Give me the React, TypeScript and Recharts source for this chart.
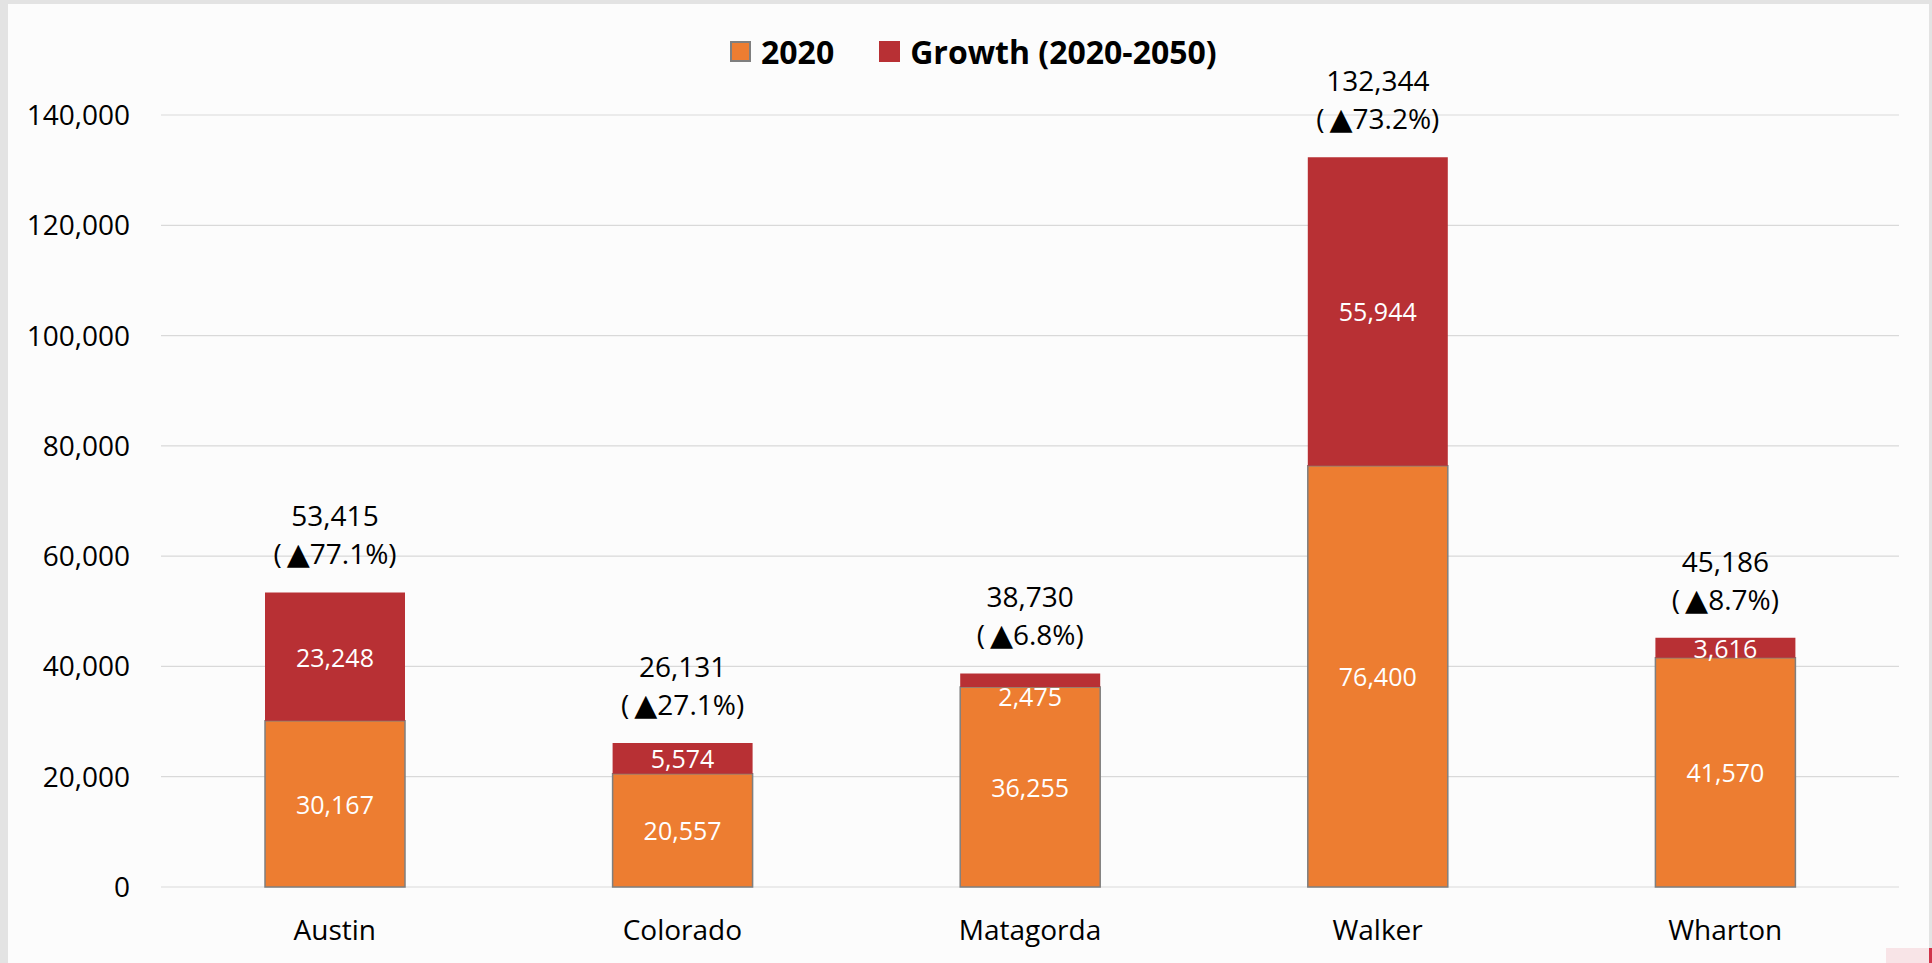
import React from 'react';
import { BarChart, Bar, XAxis, YAxis, CartesianGrid, Legend, LabelList } from 'recharts';

const counties = ['Austin', 'Colorado', 'Matagorda', 'Walker', 'Wharton'];
const pop2020 = [30167, 20557, 36255, 76400, 41570];
const growth = [23248, 5574, 2475, 55944, 3616];
const yTicks = [0, 20000, 40000, 60000, 80000, 100000, 120000, 140000];

const FONT = '"Open Sans", sans-serif';
const ORANGE = '#ed7d31';
const RED = '#b83034';

const data = counties.map((name, i) => ({
  name,
  base: pop2020[i],
  growth: growth[i],
}));

const fmt = (v: number) => v.toLocaleString('en-US');

// white value labels inside each segment
const InnerLabel = (props: any) => {
  const { x, y, width, height, value } = props;
  // very thin segments: Excel pushes the text just under the segment
  const cy = height < 16 ? y + height + 9 : y + height / 2;
  return (
    <text x={x + width / 2} y={cy} fill="#fff" fontSize={25} fontFamily={FONT}
      textAnchor="middle" dominantBaseline="central">
      {fmt(value)}
    </text>
  );
};

// total + growth % above the stacked bar
const TotalLabel = (props: any) => {
  const { x, y, width, index } = props;
  const total = pop2020[index] + growth[index];
  const pct = ((growth[index] / pop2020[index]) * 100).toFixed(1);
  const cx = x + width / 2;
  return (
    <g fontFamily={FONT} fontSize={28} fill="#000" textAnchor="middle">
      <text x={cx} y={y - 66}>{fmt(total)}</text>
      <text x={cx} y={y - 28}>
        (<tspan dx={5} fontFamily='"DejaVu Sans", sans-serif' fontSize={30}>▲</tspan>{`${pct}%)`}
      </text>
    </g>
  );
};

const LegendContent = () => (
  <div style={{ display: 'flex', alignItems: 'center', fontFamily: FONT, fontWeight: 700, fontSize: 32, lineHeight: '43px', color: '#000' }}>
    <span style={{ width: 21, height: 21, background: ORANGE, border: '2px solid #7f7f7f', boxSizing: 'border-box', marginRight: 10 }} />
    <span>2020</span>
    <span style={{ width: 21, height: 21, background: RED, marginLeft: 45, marginRight: 10 }} />
    <span>Growth (2020-2050)</span>
  </div>
);

export default function App() {
  return (
    <div style={{ position: 'relative', width: 1932, height: 963, background: '#e3e3e3', overflow: 'hidden' }}>
      <style>{'body{margin:0}'}</style>
      <div style={{ position: 'absolute', left: 8, top: 4, width: 1921, height: 959, background: '#fcfcfc' }} />
      <div style={{ position: 'absolute', left: 1886, top: 948, width: 43, height: 15, background: '#f8e4e7' }} />
      <div style={{ position: 'absolute', left: 1929, top: 948, width: 3, height: 15, background: '#d0344a' }} />
      <div style={{ position: 'absolute', left: 0, top: 0 }}>
        <BarChart
          width={1932}
          height={963}
          data={data}
          margin={{ top: 115, right: 33, left: 0, bottom: 16 }}
          barSize={140}
        >
          <CartesianGrid vertical={false} stroke="#d9d9d9" strokeWidth={1.2} />
          <XAxis
            dataKey="name"
            axisLine={false}
            tickLine={false}
            tickSize={0}
            tickMargin={33}
            height={60}
            tick={{ fill: '#000', fontSize: 28, fontFamily: FONT }}
          />
          <YAxis
            width={161}
            domain={[0, 140000]}
            ticks={yTicks}
            axisLine={false}
            tickLine={false}
            tickSize={0}
            tickMargin={31}
            tickFormatter={fmt}
            tick={{ fill: '#000', fontSize: 28, fontFamily: FONT }}
          />
          <Legend
            layout="horizontal"
            verticalAlign="middle"
            align="center"
            wrapperStyle={{ top: 30, left: 730, width: 'auto' }}
            content={<LegendContent />}
          />
          <Bar dataKey="base" name="2020" stackId="a" fill={ORANGE} stroke="#7f7f7f" strokeWidth={1.5} isAnimationActive={false}>
            <LabelList dataKey="base" content={<InnerLabel />} />
          </Bar>
          <Bar dataKey="growth" name="Growth (2020-2050)" stackId="a" fill={RED} isAnimationActive={false}>
            <LabelList dataKey="growth" content={<InnerLabel />} />
            <LabelList dataKey="growth" content={<TotalLabel />} />
          </Bar>
        </BarChart>
      </div>
    </div>
  );
}
